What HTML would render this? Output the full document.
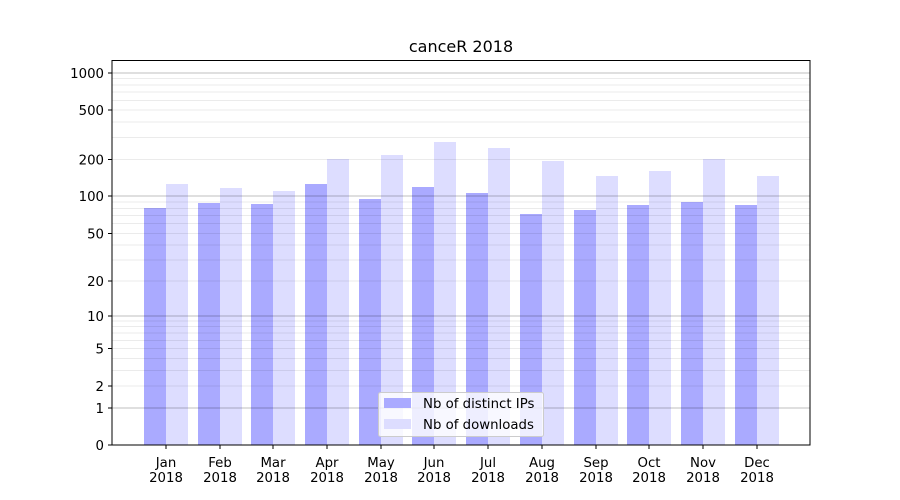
<!DOCTYPE html>
<html><head><meta charset="utf-8"><style>body{margin:0;background:#fff}svg{display:block}text{font-family:"DejaVu Sans","Liberation Sans",sans-serif;font-size:13.3px;fill:#000}</style></head><body>
<svg width="900" height="500" viewBox="0 0 900 500">
<rect width="900" height="500" fill="#fff"/>
<g>
<rect x="144" y="208" width="22" height="237" fill="#aaaaff"/><rect x="166" y="184" width="22" height="261" fill="#ddddff"/>
<rect x="198" y="203" width="22" height="242" fill="#aaaaff"/><rect x="220" y="188" width="22" height="257" fill="#ddddff"/>
<rect x="251" y="204" width="22" height="241" fill="#aaaaff"/><rect x="273" y="191" width="22" height="254" fill="#ddddff"/>
<rect x="305" y="184" width="22" height="261" fill="#aaaaff"/><rect x="327" y="159" width="22" height="286" fill="#ddddff"/>
<rect x="359" y="199" width="22" height="246" fill="#aaaaff"/><rect x="381" y="155" width="22" height="290" fill="#ddddff"/>
<rect x="412" y="187" width="22" height="258" fill="#aaaaff"/><rect x="434" y="142" width="22" height="303" fill="#ddddff"/>
<rect x="466" y="193" width="22" height="252" fill="#aaaaff"/><rect x="488" y="148" width="22" height="297" fill="#ddddff"/>
<rect x="520" y="214" width="22" height="231" fill="#aaaaff"/><rect x="542" y="161" width="22" height="284" fill="#ddddff"/>
<rect x="574" y="210" width="22" height="235" fill="#aaaaff"/><rect x="596" y="176" width="22" height="269" fill="#ddddff"/>
<rect x="627" y="205" width="22" height="240" fill="#aaaaff"/><rect x="649" y="171" width="22" height="274" fill="#ddddff"/>
<rect x="681" y="202" width="22" height="243" fill="#aaaaff"/><rect x="703" y="159" width="22" height="286" fill="#ddddff"/>
<rect x="735" y="205" width="22" height="240" fill="#aaaaff"/><rect x="757" y="176" width="22" height="269" fill="#ddddff"/>
</g>
<g stroke="#000" stroke-opacity="0.08" stroke-width="1">
<line x1="112" x2="810" y1="386" y2="386"/><line x1="112" x2="810" y1="370.5" y2="370.5"/><line x1="112" x2="810" y1="358.5" y2="358.5"/><line x1="112" x2="810" y1="348.5" y2="348.5"/><line x1="112" x2="810" y1="340.5" y2="340.5"/><line x1="112" x2="810" y1="333" y2="333"/><line x1="112" x2="810" y1="326.5" y2="326.5"/><line x1="112" x2="810" y1="321" y2="321"/>
<line x1="112" x2="810" y1="281" y2="281"/><line x1="112" x2="810" y1="260" y2="260"/><line x1="112" x2="810" y1="245" y2="245"/><line x1="112" x2="810" y1="233.5" y2="233.5"/><line x1="112" x2="810" y1="223.5" y2="223.5"/><line x1="112" x2="810" y1="215.5" y2="215.5"/><line x1="112" x2="810" y1="208.5" y2="208.5"/><line x1="112" x2="810" y1="202" y2="202"/>
<line x1="112" x2="810" y1="159.5" y2="159.5"/><line x1="112" x2="810" y1="137.5" y2="137.5"/><line x1="112" x2="810" y1="122" y2="122"/><line x1="112" x2="810" y1="110" y2="110"/><line x1="112" x2="810" y1="100.5" y2="100.5"/><line x1="112" x2="810" y1="92" y2="92"/><line x1="112" x2="810" y1="85" y2="85"/><line x1="112" x2="810" y1="78.5" y2="78.5"/>
</g>
<g stroke="#000" stroke-opacity="0.25" stroke-width="1">
<line x1="112" x2="810" y1="408" y2="408"/><line x1="112" x2="810" y1="316" y2="316"/><line x1="112" x2="810" y1="196" y2="196"/><line x1="112" x2="810" y1="73" y2="73"/>
</g>
<rect x="112" y="60.5" width="698" height="384.5" fill="none" stroke="#000" stroke-width="1"/>
<g stroke="#000">
<line x1="108" x2="112" y1="445" y2="445"/><line x1="108" x2="112" y1="408" y2="408"/><line x1="108" x2="112" y1="386" y2="386"/><line x1="108" x2="112" y1="348.5" y2="348.5"/><line x1="108" x2="112" y1="316" y2="316"/><line x1="108" x2="112" y1="281" y2="281"/><line x1="108" x2="112" y1="233.5" y2="233.5"/><line x1="108" x2="112" y1="196" y2="196"/><line x1="108" x2="112" y1="159.5" y2="159.5"/><line x1="108" x2="112" y1="110" y2="110"/><line x1="108" x2="112" y1="73" y2="73"/>
<line x1="166" x2="166" y1="445" y2="449"/><line x1="220" x2="220" y1="445" y2="449"/><line x1="273" x2="273" y1="445" y2="449"/><line x1="327" x2="327" y1="445" y2="449"/><line x1="381" x2="381" y1="445" y2="449"/><line x1="434" x2="434" y1="445" y2="449"/><line x1="488" x2="488" y1="445" y2="449"/><line x1="542" x2="542" y1="445" y2="449"/><line x1="596" x2="596" y1="445" y2="449"/><line x1="649" x2="649" y1="445" y2="449"/><line x1="703" x2="703" y1="445" y2="449"/><line x1="757" x2="757" y1="445" y2="449"/>
</g>
<g text-anchor="end">
<text x="104" y="450">0</text><text x="104" y="413">1</text><text x="104" y="391">2</text><text x="104" y="353.5">5</text><text x="104" y="321">10</text><text x="104" y="286">20</text><text x="104" y="238.5">50</text><text x="104" y="201">100</text><text x="104" y="164.5">200</text><text x="104" y="115">500</text><text x="104" y="78">1000</text>
</g>
<g text-anchor="middle">
<text x="166" y="467">Jan</text><text x="166" y="482">2018</text>
<text x="220" y="467">Feb</text><text x="220" y="482">2018</text>
<text x="273" y="467">Mar</text><text x="273" y="482">2018</text>
<text x="327" y="467">Apr</text><text x="327" y="482">2018</text>
<text x="381" y="467">May</text><text x="381" y="482">2018</text>
<text x="434" y="467">Jun</text><text x="434" y="482">2018</text>
<text x="488" y="467">Jul</text><text x="488" y="482">2018</text>
<text x="542" y="467">Aug</text><text x="542" y="482">2018</text>
<text x="596" y="467">Sep</text><text x="596" y="482">2018</text>
<text x="649" y="467">Oct</text><text x="649" y="482">2018</text>
<text x="703" y="467">Nov</text><text x="703" y="482">2018</text>
<text x="757" y="467">Dec</text><text x="757" y="482">2018</text>
<text x="461" y="52" style="font-size:16px">canceR 2018</text>
</g>
<rect x="378.5" y="392.5" width="165" height="44" rx="2" fill="#fff" fill-opacity="0.8" stroke="#ccc"/>
<rect x="384" y="398" width="27" height="10" fill="#aaaaff"/>
<rect x="384" y="419" width="27" height="10" fill="#ddddff"/>
<text x="423" y="408">Nb of distinct IPs</text>
<text x="423" y="429">Nb of downloads</text>
</svg>
</body></html>
